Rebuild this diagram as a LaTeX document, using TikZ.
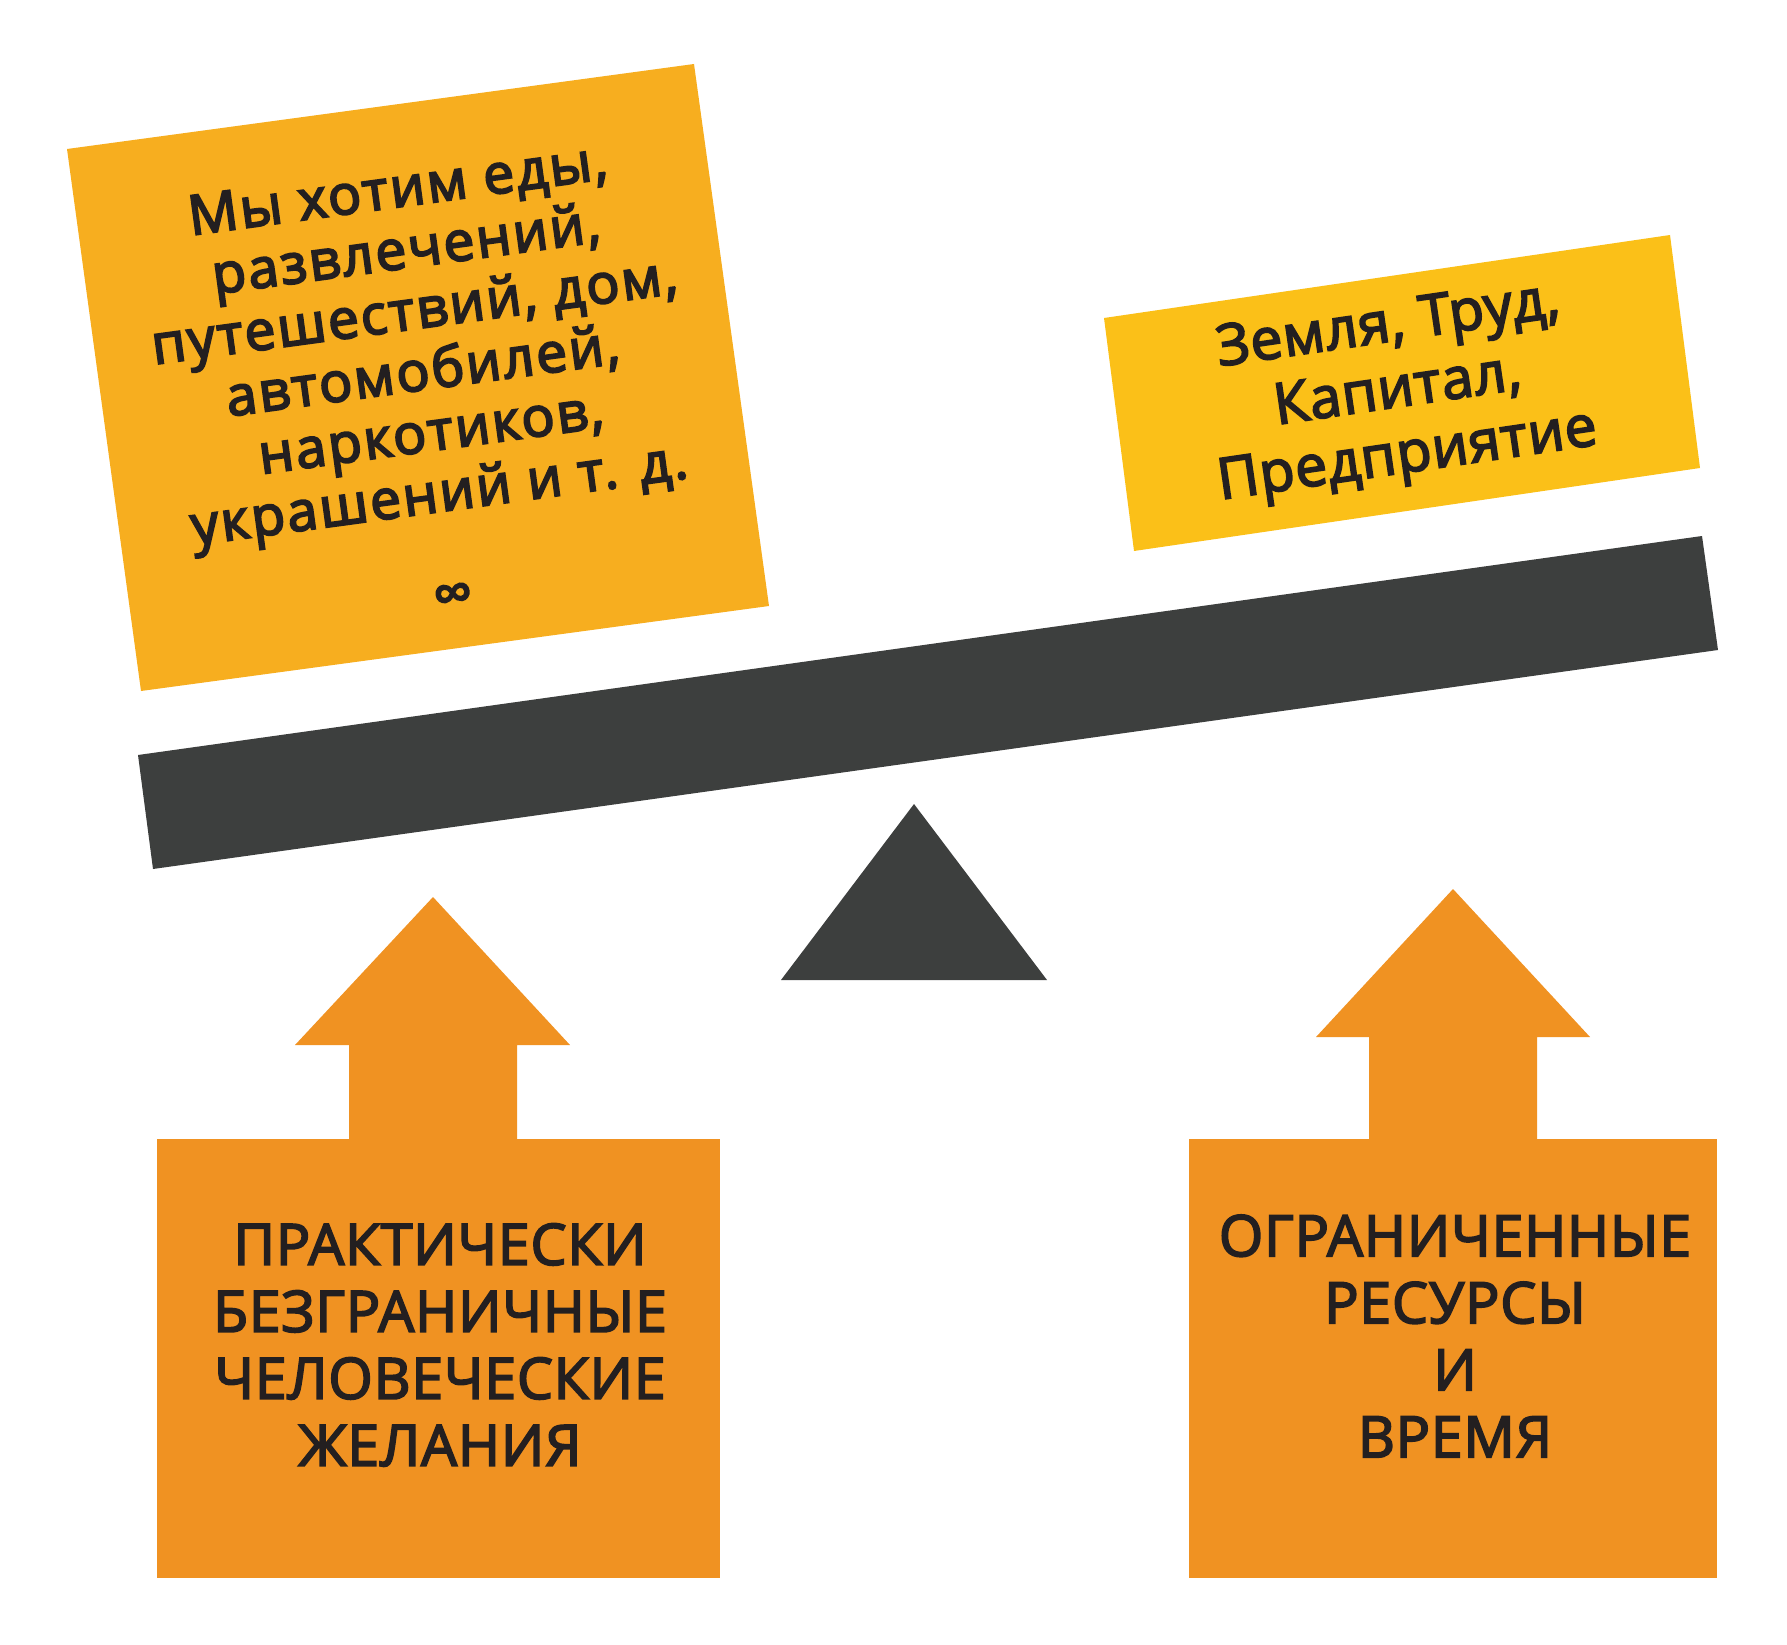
\documentclass[tikz,border=0pt]{standalone}
\usepackage{fontspec}
\setmainfont{Open Sans}
\newfontfamily\semib{Open Sans}[FakeBold=3.2, LetterSpace=1.5]
\newfontfamily\wantfont{Open Sans}[FakeBold=3.6, LetterSpace=4]
\definecolor{wantbox}{HTML}{F7AE1F}
\definecolor{resbox}{HTML}{FBC018}
\definecolor{basebox}{HTML}{F09222}
\definecolor{beamcol}{HTML}{3D3F3E}
\definecolor{txt}{HTML}{231F20}
\tikzset{
  lefttxt/.style={text=txt, align=center, inner sep=0pt, font=\wantfont\fontsize{55pt}{61.5pt}\selectfont},
  righttxt/.style={text=txt, align=center, inner sep=0pt, font=\semib\fontsize{57pt}{66pt}\selectfont},
  bottxt/.style={text=txt, align=center, inner sep=0pt, font=\semib\fontsize{57pt}{67pt}\selectfont},
}
\begin{document}
\begin{tikzpicture}[x=1pt,y=-1pt]
\useasboundingbox (0,0) rectangle (1787,1645);
% top boxes
\fill[wantbox] (67,149) -- (694,64) -- (769,606) -- (141,691) -- cycle;
\fill[resbox] (1104,318) -- (1670,235) -- (1700,468) -- (1134,551) -- cycle;
% beam
\fill[beamcol] (138,755) -- (1702,536) -- (1718,650) -- (153,869) -- cycle;
% fulcrum
\fill[beamcol] (914,804) -- (1047,980) -- (781,980) -- cycle;
% bottom boxes with arrows
\fill[basebox] (157,1139) rectangle (720,1578);
\fill[basebox] (349,1140) -- (349,1045) -- (295,1045) -- (433,897) -- (570,1045) -- (517,1045) -- (517,1140) -- cycle;
\fill[basebox] (1189,1139) rectangle (1717,1578);
\fill[basebox] (1369,1140) -- (1369,1037) -- (1316,1037) -- (1453,889) -- (1590,1037) -- (1537,1037) -- (1537,1140) -- cycle;
% texts
\node[lefttxt, rotate=7.75] (wants) at (425,390) {Мы хотим еды,\\развлечений,\\путешествий, дом,\\автомобилей,\\наркотиков,\\украшений и т. д.\\[40pt]∞};
\node[righttxt, rotate=8.3] (res) at (1398,393) {Земля, Труд,\\Капитал,\\Предприятие};
\node[bottxt] (desire) at (440,1345) {ПРАКТИЧЕСКИ\\БЕЗГРАНИЧНЫЕ\\ЧЕЛОВЕЧЕСКИЕ\\ЖЕЛАНИЯ};
\node[bottxt] (limit) at (1455,1336) {ОГРАНИЧЕННЫЕ\\РЕСУРСЫ\\И\\ВРЕМЯ};
\end{tikzpicture}
\end{document}
